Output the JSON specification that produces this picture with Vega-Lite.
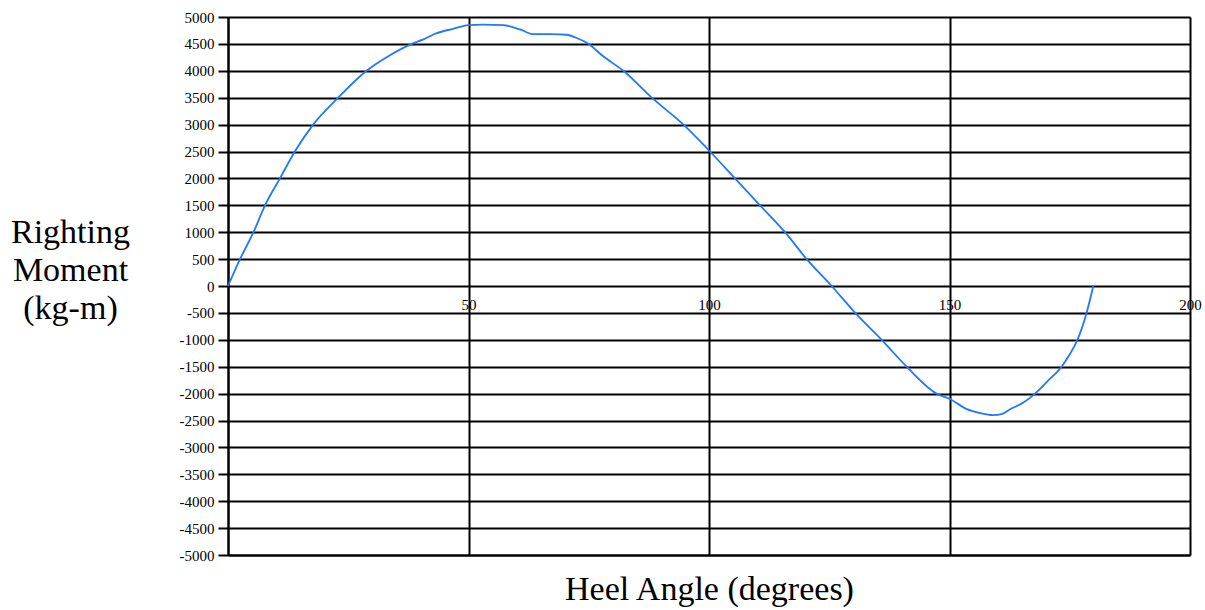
{
  "$schema": "https://vega.github.io/schema/vega-lite/v6.json",
  "autosize": {"type": "none"},
  "padding": {"left": 228, "top": 17, "right": 15, "bottom": 55},
  "width": 962,
  "height": 538,
  "background": "white",
  "config": {
    "view": {"stroke": null},
    "axis": {"labelFont": "Liberation Serif", "titleFont": "Liberation Serif", "labelColor": "#000", "titleColor": "#000"}
  },
  "data": {
    "values": [
      {"angle": 0, "moment": 0},
      {"angle": 2.5, "moment": 500},
      {"angle": 5.3, "moment": 1000},
      {"angle": 7.7, "moment": 1500},
      {"angle": 10.8, "moment": 2000},
      {"angle": 13.9, "moment": 2500},
      {"angle": 17.7, "moment": 3000},
      {"angle": 22.9, "moment": 3500},
      {"angle": 28.8, "moment": 4000},
      {"angle": 33.5, "moment": 4280},
      {"angle": 38.2, "moment": 4500},
      {"angle": 40.5, "moment": 4580},
      {"angle": 43.4, "moment": 4700},
      {"angle": 46.8, "moment": 4780},
      {"angle": 50, "moment": 4850},
      {"angle": 53, "moment": 4860},
      {"angle": 57.2, "moment": 4850},
      {"angle": 60.7, "moment": 4770},
      {"angle": 63.5, "moment": 4680},
      {"angle": 67, "moment": 4680},
      {"angle": 70.4, "moment": 4670},
      {"angle": 72.5, "moment": 4610},
      {"angle": 74.6, "moment": 4520},
      {"angle": 78, "moment": 4270},
      {"angle": 82.2, "moment": 4000},
      {"angle": 88.1, "moment": 3500},
      {"angle": 94.7, "moment": 3000},
      {"angle": 100.2, "moment": 2500},
      {"angle": 105.4, "moment": 2000},
      {"angle": 110.6, "moment": 1500},
      {"angle": 115.8, "moment": 1000},
      {"angle": 120.3, "moment": 500},
      {"angle": 125.5, "moment": 0},
      {"angle": 130.4, "moment": -500},
      {"angle": 135.9, "moment": -1000},
      {"angle": 141.1, "moment": -1500},
      {"angle": 147.3, "moment": -2000},
      {"angle": 150.1, "moment": -2100},
      {"angle": 153.6, "moment": -2290},
      {"angle": 156.3, "moment": -2360},
      {"angle": 159, "moment": -2400},
      {"angle": 161, "moment": -2375},
      {"angle": 162.6, "moment": -2290},
      {"angle": 165.3, "moment": -2170},
      {"angle": 167.8, "moment": -2000},
      {"angle": 170.5, "moment": -1760},
      {"angle": 173.3, "moment": -1500},
      {"angle": 175, "moment": -1270},
      {"angle": 176.6, "moment": -1000},
      {"angle": 178.5, "moment": -500},
      {"angle": 179.9, "moment": 0}
    ]
  },
  "mark": {"type": "line", "color": "#1f78ff", "strokeWidth": 1.8, "interpolate": "monotone"},
  "encoding": {
    "x": {
      "field": "angle",
      "type": "quantitative",
      "scale": {"domain": [0, 200], "nice": false, "zero": false},
      "axis": {
        "values": [0, 50, 100, 150, 200],
        "labelExpr": "datum.value == 0 ? '' : datum.label",
        "grid": true,
        "gridColor": "#000",
        "gridWidth": 2,
        "gridOpacity": 1,
        "domain": true,
        "domainColor": "#000",
        "domainWidth": 2,
        "ticks": false,
        "labelFontSize": 15,
        "labelPadding": -258,
        "labelBaseline": "top",
        "labelOverlap": false,
        "labelFlush": false,
        "title": "Heel Angle (degrees)",
        "titleFontSize": 34,
        "titleFontWeight": "normal",
        "titleBaseline": "middle",
        "titleY": 34,
        "titleX": 481
      }
    },
    "y": {
      "field": "moment",
      "type": "quantitative",
      "scale": {"domain": [-5000, 5000], "nice": false},
      "axis": {
        "values": [-5000, -4500, -4000, -3500, -3000, -2500, -2000, -1500, -1000, -500, 0, 500, 1000, 1500, 2000, 2500, 3000, 3500, 4000, 4500, 5000],
        "labelExpr": "datum.value + ''",
        "grid": true,
        "gridColor": "#000",
        "gridWidth": 2,
        "gridOpacity": 1,
        "domainColor": "#000",
        "domainWidth": 2,
        "tickColor": "#000",
        "tickWidth": 2,
        "tickSize": 10,
        "labelFontSize": 15,
        "labelPadding": 4,
        "labelOverlap": false,
        "labelFlush": false,
        "title": ["Righting", "Moment", "(kg-m)"],
        "titleFontSize": 34,
        "titleFontWeight": "normal",
        "titleAngle": 0,
        "titleAlign": "center",
        "titleBaseline": "middle",
        "titleLineHeight": 38,
        "titleX": -158,
        "titleY": 215
      }
    }
  }
}
